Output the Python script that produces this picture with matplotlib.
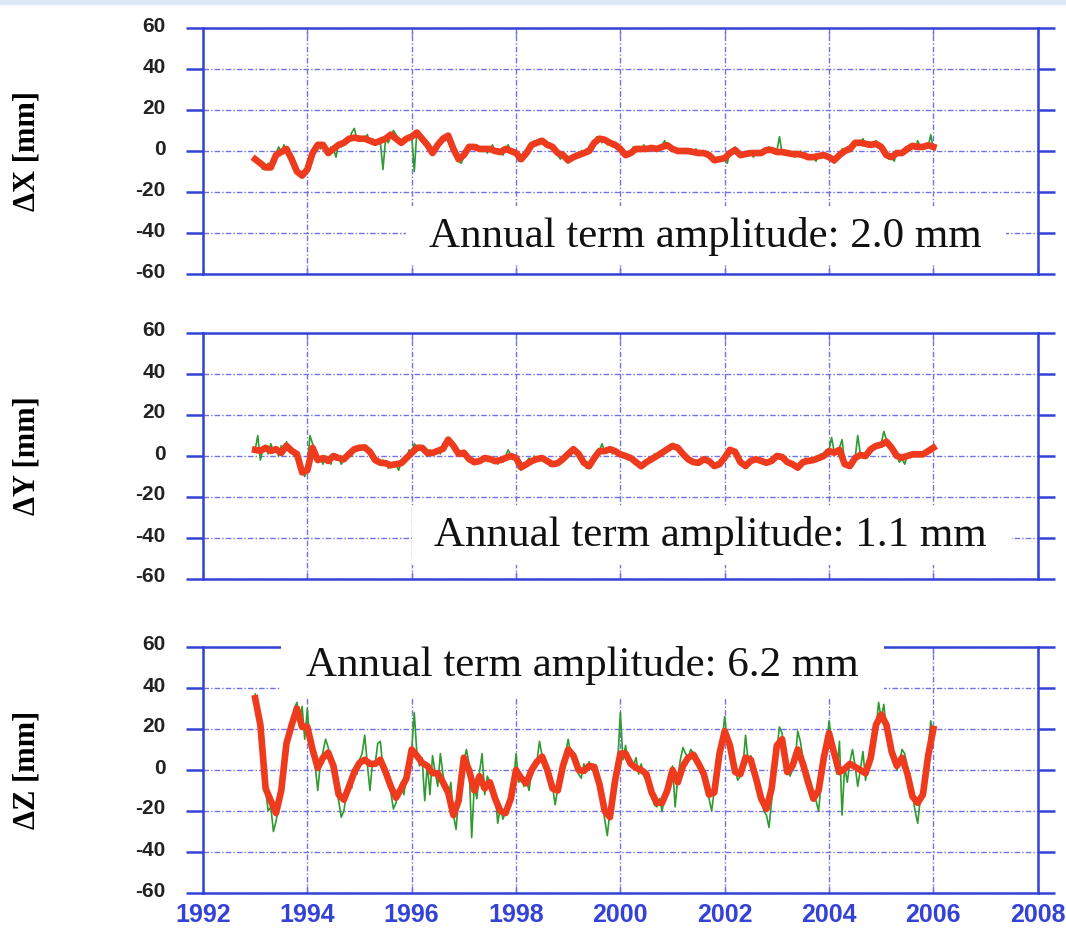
import numpy as np
import matplotlib.pyplot as plt
from matplotlib.patches import Rectangle
from matplotlib.transforms import ScaledTranslation

plt.rcParams['axes.unicode_minus'] = False

# sampling times (decimal years)
t_red = np.round(np.arange(1993.0, 2006.001, 0.1), 3)
t_green = np.round(np.arange(1993.0, 2006.001, 0.05), 3)

# smoothed series (red), mm
dx_red = [-4, -6, -8, -8, -2, -0.5, 1, -4, -10, -12,
          -9, -1, 3, 3, -1, 1, 3, 4, 6, 6.5,
          6, 6, 5, 4, 5, 6, 8, 6, 4, 6,
          7, 9, 6, 3, -1, 3, 6, 7.5, 1, -4,
          -2, 2, 2, 1, 1, 1, 0, -0.5, 1, 0,
          -1, -4, -1, 3, 4, 5, 3, 2, -1, -2,
          -4.5, -3, -2, -1, 0, 4, 6, 5.5, 4, 3,
          1, -2, -1, 1, 1, 1, 1.5, 1, 2, 2.8,
          1, 0, 0, 0, -0.5, -1, -1, -2, -4.5, -4,
          -3.5, -1, 0.5, -2, -1.5, -1, -1, -1, 0.5, 0.5,
          -0.5, -0.5, -1, -1.5, -1.5, -2, -3, -3, -2.5, -2,
          -3, -4.5, -2, 0, 1, 4, 4, 3.5, 3, 3.5,
          2, -2, -3, -1, -1, 1, 2.5, 2, 2, 2.8,
          2]
dy_red = [3, 2.5, 4, 2.5, 3.3, 1.5, 5, 2.5, 1, -8,
          -7, 4, -2, -1, -2.4, 0, -1, -1.6, 1, 3.3,
          4, 4.2, 2, -2, -3.3, -3.5, -4.5, -4, -3.5, -1,
          1.5, 4, 4, 1.5, 1.5, 2.5, 3.5, 8, 5, 1,
          1.6, -1.5, -3, -2.5, -1, -1.5, -2.5, -2, -1, 0,
          -1, -5.5, -4, -2.5, -1.5, -1, -2.5, -4, -3.5, -1.5,
          1, 3.3, 1, -3.3, -5, -1, 2.4, 2.4, 3.3, 2.4,
          0.8, 0, -1, -3, -5, -3, -1.5, 0, 1.6, 3.3,
          4.9, 4, 1, -1.6, -3, -3.3, -1.6, -2.5, -4.9, -4,
          -0.8, 3, 2, -3, -4.9, -2.4, -1.6, -2.4, -3.3, -2.4,
          0, -0.5, -3, -4, -5.7, -3, -2.4, -2, -1, 0,
          2.4, 1.6, 3, -4, -4.9, -1, 0.5, 0, 3.3, 4.9,
          5.5, 7, 4, 0, -0.8, 0, 0.8, 0.8, 0.8, 2.4,
          4]
dz_red = [35, 22, -9, -15, -21, -10, 13, 22, 30, 21,
          21, 10, 1, 6, 8.5, 2, -12, -14.5, -8, -1,
          3.5, 5, 3, 3, 5, -1, -8, -13.5, -9, -4,
          10, 7, 3.5, 2, -1.5, -1.6, -6, -11, -22, -15,
          6, 0, -10, -3, -9, -6, -14, -20, -21, -14,
          0, -4, -6.5, 0, 4, 6.5, 0, -9, -10, 2,
          10, 7, 0, -0.5, 2, 1.5, -7, -20, -23, -5,
          8, 8, 3, 1, 0, -2, -11, -16, -16, -10,
          0, -6, 2, 6, 7.5, 3, -2, -12, -11, 8,
          19, 12, -1, -2, 6, 5, -4, -14, -19, -9,
          12, 15, -1, 2, 10, 3, -6, -14, -10, 6,
          18, 8, -1, 0.5, 3, 1.5, 0, -1.6, 6, 22,
          27, 22, 9, 2, 6, -1.6, -13, -16, -12, 7,
          20]

# raw series (green), mm
dx_green = [-3, -6, -7, -9, -8, -6, -9, -3, -1, 2, -1, 3, 0, -2, -5, -7, -11, -10, -13, -10,
            -8, -4, 0, 2, 4, 1, 3, 0, -2, 2, 1, -3, 4, 2, 3, 6, 5, 9, 11, 6,
            7, 5, 6, 8, 4, 6, 3, 5, 4, -9, 6, 4, 7, 10, 8, 5, 3, 5, 7, 6,
            8, -10, 10, 8, 6, 4, 2, 0, -2, 1, 3, 4, 7, 5, 8, 6, 2, -3, -5, -6,
            -3, 0, 2, 3, 1, 3, 0, 2, 2, -1, 1, 3, -1, 1, 0, -2, 1, 3, 0, -1,
            -2, -5, -5, -2, 0, 2, 3, 5, 4, 6, 5, 3, 2, 4, 2, -1, -2, -4, -2, -5,
            -6, -3, -3, -1, -2, 0, -1, 1, 1, 2, 5, 7, 6, 4, 6, 3, 4, 2, 3, 1,
            2, -1, -3, -2, 0, 2, 1, 0, 1, 3, 1, 0, 2, 1, 0, 2, 3, 5, 2, 1,
            2, 0, -1, 1, 0, -1, 1, 0, -1, 1, -2, 0, -1, -2, -3, -3, -5, -4, -5, -3,
            -3, -6, 0, 1, 2, -1, -2, -1, -2, 0, -1, -3, -1, 0, -2, 0, 1, 2, 0, -1,
            0, 7, -1, -2, 0, -2, -1, -3, -2, 0, -3, -1, -4, -2, -3, -5, -2, -1, -3, -2,
            -2, -5, -6, -3, -2, 1, 0, 2, 1, 3, 5, 3, 4, 6, 3, 2, 4, 3, 5, 2,
            3, -1, -3, -4, -2, -5, 0, -2, -1, 0, 2, 0, 3, 1, 5, 2, 1, 3, 2, 8,
            1]
dy_green = [3, 10, -2, 4, 5, 1, 6, 2, 4, 0, 5, 2, 7, 3, 4, 0, 2, -3, -7, -10,
            -5, 10, 6, 2, -3, -1, -4, 0, -1, -4, 1, -2, 0, -4, -2, 1, 2, 0, 3, 5,
            5, 3, 5, 4, 2, 0, -3, -1, -4, -2, -3, -6, -5, -3, -4, -7, -3, -1, -2, 3,
            2, 6, 4, 3, 5, 2, 0, 3, 2, 1, 3, 1, 6, 3, 9, 6, 5, 3, 2, 0,
            2, 0, -1, -3, -4, -2, -3, -1, 0, -2, -1, -3, -2, -4, -1, -3, 0, 3, 0, -1,
            -2, -6, -7, -4, -3, -1, -3, 0, -1, -2, 0, -3, -2, -5, -3, -5, -4, -2, -2, 0,
            2, 0, 4, 2, 1, -1, -3, -6, -6, -3, -2, 1, 3, 6, 2, 3, 4, 1, 3, 2,
            1, 0, 1, -2, 0, -2, -3, -5, -6, -4, -3, -1, -2, 1, 0, 2, 3, 2, 4, 5,
            6, 4, 5, 2, 1, 0, -2, -1, -3, -2, -4, -2, -1, -3, -2, -5, -6, -3, -4, -1,
            0, 2, 4, 3, 2, 0, -2, -4, -6, -4, -2, -3, -1, -3, -2, -4, -3, -2, -2, 0,
            1, 0, 0, -2, -3, -4, -5, -4, -6, -3, -3, -1, -3, -2, -1, -2, 0, 1, 0, 3,
            3, 9, 2, 1, 4, 8, -3, -5, -5, -3, -1, 10, 1, -1, 0, 2, 4, 3, 5, 4,
            6, 12, 8, 5, 3, 1, 0, -3, -1, -4, 0, 1, 1, 0, 1, 2, 0, 2, 3, 2,
            4]
dz_green = [37, 30, 20, 8, -10, -20, -18, -30, -25, -18, -12, -2, 10, 20, 18, 30, 33, 22, 31, 15,
            30, 12, 14, 2, -10, 3, 9, 15, 11, 4, -3, -10, -15, -23, -20, -11, -5, -9, 1, -2,
            5, 8, 17, 3, -10, 4, 3, 13, 14, 0, -2, -6, -11, -19, -16, -10, -6, -12, -3, 2,
            10, 28, 8, 2, 6, -15, 3, -12, 7, -1, -8, 8, -2, -10, -14, -6, -22, -29, -14, -4,
            4, 10, 3, -33, -8, -14, -1, 8, -12, -3, -6, -7, -12, -26, -18, -24, -20, -17, -14, -8,
            8, -6, -3, -8, -5, -10, 0, 3, 4, 14, 7, 3, 1, -6, -8, -17, -9, 0, 4, 8,
            15, 8, 5, 1, -2, -4, 3, 0, 4, 0, 2, -3, -10, -17, -24, -32, -20, -8, -2, 4,
            28, 5, 12, 3, 5, 2, 6, -2, 3, -3, -5, -8, -13, -17, -18, -14, -20, -13, -8, -4,
            2, -18, -4, 5, 11, 8, 6, 10, 8, 3, 4, 1, -3, -8, -14, -20, -10, 0, 6, 14,
            26, 14, 15, 6, 0, -5, -3, 2, 17, 4, 7, 2, -2, -6, -12, -20, -22, -28, -15, -4,
            10, 21, 18, 8, 2, -3, 0, 4, 19, 14, 6, 1, -2, -6, -12, -15, -20, -6, 2, 10,
            24, 14, 4, -2, 14, -22, 2, -6, 4, 10, 2, -8, 0, 9, -5, 2, 8, 12, 20, 33,
            25, 32, 20, 14, 8, 5, 0, 4, 10, 8, 2, -5, -12, -20, -26, -14, -10, -4, 10, 24,
            17]

labels = ['ΔX [mm]', 'ΔY [mm]', 'ΔZ [mm]']
notes = ['Annual term amplitude: 2.0 mm',
         'Annual term amplitude: 1.1 mm',
         'Annual term amplitude: 6.2 mm']
xticks = list(range(1992, 2009, 2))
yticks = list(range(-60, 61, 20))

BLUE = '#3442d6'
GRID = '#7272e4'
RED = '#ef3b1d'
GREEN = '#2f9a2f'

fig = plt.figure(figsize=(10.66, 9.3), dpi=100)
fig.patches.append(Rectangle((0, 1 - 4 / 930), 1, 4 / 930, transform=fig.transFigure,
                             color='#dde9f7', zorder=0))

W, H = 1066, 930
left, width = 203 / W, 834.7 / W
panels = [(28, 274), (333, 579), (647, 893)]
# white boxes behind the notes: x0, x1, y0, y1 (data units) and text anchor
boxes = [(1995.9, 2007.4, -55, -27), (1996.0, 2007.5, -53, -25), (1993.5, 2005.05, 35.5, 66)]
note_pos = [(2001.63, -41.5), (2001.72, -39), (1999.28, 51)]

series = [(dx_green, dx_red), (dy_green, dy_red), (dz_green, dz_red)]

for i, (top, bot) in enumerate(panels):
    ax = fig.add_axes([left, 1 - bot / H, width, (bot - top) / H])
    g, r = series[i]
    ax.plot(t_green, g, color=GREEN, lw=1.2, zorder=2)
    ax.plot(t_red, r, color=RED, lw=4.8, zorder=3, solid_joinstyle='round')

    ax.set_xlim(1992, 2008)
    ax.set_ylim(-60, 60)
    ax.set_xticks(xticks)
    ax.set_yticks(yticks)
    for s in ax.spines.values():
        s.set_color(BLUE)
        s.set_linewidth(1.8)
    ax.grid(True, color=GRID, lw=1.0, ls=(0, (4, 1.5, 1, 1.5)), zorder=1)
    ax.set_axisbelow(True)
    ax.tick_params(axis='y', direction='out', length=12, width=1.8, color=BLUE,
                   left=True, right=True, labelsize=15, pad=15, labelcolor='#222222')
    ax.tick_params(axis='x', direction='in', length=5, width=1, color=GRID,
                   top=True, bottom=True, labelbottom=(i == 2), labelsize=18,
                   labelcolor=BLUE, pad=7)
    for lab in ax.get_yticklabels():
        lab.set_fontweight('bold')
        lab.set_family('Liberation Sans')
        lab.set_transform(lab.get_transform() + ScaledTranslation(0, 0.04, fig.dpi_scale_trans))
    for lab in ax.get_xticklabels():
        lab.set_fontweight('bold')
        lab.set_family('Liberation Sans')

    x0, x1, y0, y1 = boxes[i]
    ax.add_patch(Rectangle((x0, y0), x1 - x0, y1 - y0, facecolor='white', edgecolor='none',
                           zorder=4, clip_on=False))
    ax.text(note_pos[i][0], note_pos[i][1], notes[i], ha='center', va='center',
            fontsize=31, family='Liberation Serif', color='#111111', zorder=5)

    fig.text(27 / W, 1 - (top + bot) / 2 / H, labels[i], rotation=90, ha='center',
             va='center', fontsize=22, fontweight='bold', family='Liberation Serif')

fig.savefig('out.png', dpi=100)
